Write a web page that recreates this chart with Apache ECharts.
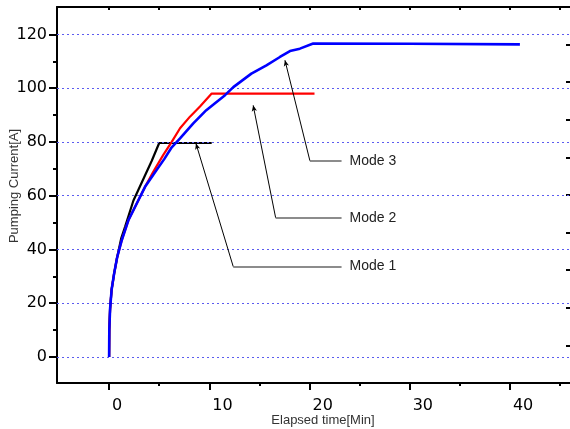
<!DOCTYPE html>
<html>
<head>
<meta charset="utf-8">
<script src="https://cdn.jsdelivr.net/npm/echarts@6/dist/echarts.min.js"></script>
<style>
  html, body { margin: 0; padding: 0; background: #fff; }
  #chart { width: 570px; height: 429px; }
</style>
</head>
<body>
<div id="chart"></div>
<script>
// 数据：时间 (min) 与电流 (A)
const mode1Time = [0, 0.02, 0.1, 0.25, 0.5, 0.8, 1.2, 1.6, 2.42, 3.42, 4.26, 5.0, 10.24];
const mode1Current = [0, 10, 18, 25, 31, 37, 44, 48.5, 58.1, 66.2, 73, 79.6, 79.6];

const mode2Time = [0, 0.02, 0.1, 0.25, 0.5, 0.8, 1.27, 1.93, 2.76, 3.59, 4.42, 5.41, 6.25, 7.08, 8.07, 9.07, 10.24, 20.5];
const mode2Current = [0, 10, 18, 25, 31, 37, 43.5, 50.9, 57.1, 63.3, 69, 75.2, 80, 85.1, 89.4, 93.2, 98, 98];

const mode3Time = [0, 0.02, 0.1, 0.25, 0.5, 0.8, 1.27, 1.93, 2.76, 3.59, 4.6, 5.5, 6.25, 7.08, 8.4, 9.7, 10.6, 11.57, 12.4, 14.2, 15.7, 17.05, 18.05, 19.04, 20.37, 30, 41];
const mode3Current = [0, 10, 18, 25, 31, 37, 43.5, 50.9, 57.1, 63.3, 68.8, 73.6, 78, 81.3, 86.9, 91.8, 94.5, 97.4, 100.4, 105.4, 108.5, 111.6, 113.8, 114.7, 116.6, 116.5, 116.3];

const xMajorTicks = [0, 10, 20, 30, 40];
const xMinorTicks = [5, 15, 25, 35, 45];
const xTopTicks = [0, 5, 10, 15, 20, 25, 30, 35, 40, 45];
const yMajorTicks = [0, 20, 40, 60, 80, 100, 120];
const yMinorTicks = [-10, 10, 30, 50, 70, 90, 110];

// 注释：箭头尖端、折点、水平线终点
const modeNames = ['Mode 1', 'Mode 2', 'Mode 3'];
const arrowTips = [[8.67, 79.4], [14.38, 93.6], [17.55, 110.4]];
const arrowElbows = [[12.39, 33.6], [16.62, 51.8], [20.04, 73.0]];
const leaderEnd = 23.2;

const XMIN = -5.2, XMAX = 46;
const YMIN = -9.7, YMAX = 130.2;

const zip = (xs, ys) => xs.map((x, i) => [x, ys[i]]);

const chart = echarts.init(document.getElementById('chart'));

const baseX = { type: 'value', min: XMIN, max: XMAX, splitLine: { show: false } };
const baseY = { type: 'value', min: YMIN, max: YMAX, splitLine: { show: false } };

const option = {
    animation: false,
    backgroundColor: '#fff',
    grid: { left: 57, right: 0, top: 7, bottom: 46, containLabel: false, outerBoundsMode: 'none' },
    xAxis: [
        Object.assign({}, baseX, {
            position: 'bottom',
            name: 'Elapsed time[Min]',
            nameLocation: 'middle',
            nameGap: 31,
            nameMoveOverlap: false,
            nameTextStyle: { fontSize: 13, color: '#333', fontFamily: 'Liberation Sans', padding: [0, 0, 0, 19] },
            axisLine: { onZero: false, lineStyle: { color: '#000', width: 2 } },
            axisTick: { customValues: xMajorTicks, length: 7, lineStyle: { color: '#000', width: 2 } },
            axisLabel: {
                customValues: xMajorTicks, align: 'left', padding: [0, 0, 0, 3],
                margin: 15, fontSize: 16, color: '#000', fontFamily: 'DejaVu Sans'
            }
        }),
        Object.assign({}, baseX, {
            position: 'bottom',
            axisLine: { show: false, onZero: false },
            axisTick: { customValues: xMinorTicks, length: 3, lineStyle: { color: '#000', width: 2 } },
            axisLabel: { show: false }
        }),
        Object.assign({}, baseX, {
            position: 'top',
            axisLine: { onZero: false, lineStyle: { color: '#000', width: 2 } },
            axisTick: { customValues: xTopTicks, inside: true, length: 3, lineStyle: { color: '#000', width: 2 } },
            axisLabel: { show: false }
        })
    ],
    yAxis: [
        Object.assign({}, baseY, {
            position: 'left',
            name: 'Pumping Current[A]',
            nameLocation: 'middle',
            nameGap: 36,
            nameMoveOverlap: false,
            nameTextStyle: { fontSize: 13, color: '#333', fontFamily: 'Liberation Sans', padding: [0, 0, 0, 18] },
            axisLine: { onZero: false, lineStyle: { color: '#000', width: 2 } },
            axisTick: { customValues: yMajorTicks, length: 8, lineStyle: { color: '#000', width: 2 } },
            axisLabel: {
                customValues: yMajorTicks, margin: 10,
                fontSize: 16, color: '#000', fontFamily: 'DejaVu Sans'
            }
        }),
        Object.assign({}, baseY, {
            position: 'left',
            axisLine: { show: false, onZero: false },
            axisTick: { customValues: yMinorTicks, length: 4, lineStyle: { color: '#000', width: 2 } },
            axisLabel: { show: false }
        }),
        {
            type: 'value', position: 'right', min: 0, max: 10, interval: 1,
            splitLine: { show: false },
            axisLine: { show: false, onZero: false },
            axisTick: { inside: true, length: 4, lineStyle: { color: '#000', width: 2 } },
            axisLabel: { show: false }
        }
    ],
    series: [
        {
            // 点状网格线
            type: 'line', data: [], z: 1,
            markLine: {
                silent: true, symbol: 'none', label: { show: false },
                lineStyle: { color: '#5b5bf0', type: [2, 3], width: 1 },
                data: yMajorTicks.map(v => ({ yAxis: v }))
            }
        },
        {
            name: 'Mode 1', type: 'line', showSymbol: false, z: 3,
            data: zip(mode1Time, mode1Current),
            lineStyle: { color: '#000', width: 2.2 }
        },
        {
            name: 'Mode 2', type: 'line', showSymbol: false, z: 4,
            data: zip(mode2Time, mode2Current),
            lineStyle: { color: '#ff0000', width: 2.2 }
        },
        {
            name: 'Mode 3', type: 'line', showSymbol: false, z: 5,
            data: zip(mode3Time, mode3Current),
            lineStyle: { color: '#0000ff', width: 2.6 }
        },
        {
            // 斜向引线 + 箭头
            type: 'line', data: [], z: 6,
            markLine: {
                silent: true, symbol: ['none', 'arrow'], symbolSize: [4, 6],
                label: { show: false },
                lineStyle: { color: '#000', type: 'solid', width: 1 },
                data: arrowTips.map((tip, i) => [{ coord: arrowElbows[i] }, { coord: tip }])
            }
        },
        {
            // 水平引线 + 标签
            type: 'line', data: [], z: 6,
            markLine: {
                silent: true, symbol: 'none',
                lineStyle: { color: '#666', type: 'solid', width: 1.5 },
                label: {
                    show: true, position: 'end', distance: 8,
                    fontSize: 14, color: '#222', fontFamily: 'Liberation Sans',
                    formatter: p => p.name
                },
                data: arrowElbows.map((e, i) => [
                    { coord: e, name: modeNames[i] },
                    { coord: [leaderEnd, e[1]] }
                ])
            }
        }
    ]
};

chart.setOption(option);
</script>
</body>
</html>
